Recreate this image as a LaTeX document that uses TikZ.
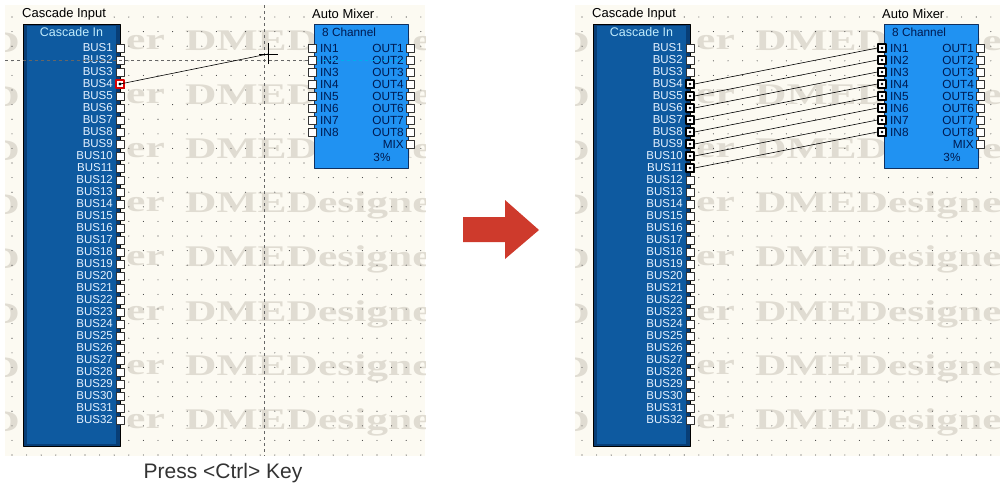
\documentclass[tikz,border=0pt]{standalone}
\usepackage{fontspec}
\setmainfont{Liberation Sans}
\newfontfamily\wmfont{Liberation Serif}
\usetikzlibrary{positioning}

\definecolor{panelbg}{RGB}{252,250,242}
\definecolor{wmgray}{RGB}{224,220,210}
\definecolor{casblue}{RGB}{14,90,160}
\definecolor{casdark}{RGB}{8,62,118}
\definecolor{mixblue}{RGB}{32,146,242}
\definecolor{mixline}{RGB}{16,48,96}
\definecolor{lblnavy}{RGB}{0,26,80}
\definecolor{buswhite}{RGB}{230,242,255}
\definecolor{arrowred}{RGB}{206,58,44}

\tikzset{
  port/.style={draw=black!80, fill=white, minimum size=8pt, inner sep=0pt, line width=0.7pt},
  linked/.style={port, draw=black, line width=1.2pt,
    path picture={\fill[black] (path picture bounding box.center) circle (1.4pt);}},
  buslbl/.style={anchor=east, inner sep=0pt, text=buswhite, font=\fontsize{11.5}{12}\selectfont},
  mixlbl/.style={inner sep=0pt, text=lblnavy, font=\fontsize{11.8}{12}\selectfont},
  title/.style={anchor=west, inner sep=0pt, font=\fontsize{13}{14}\selectfont},
  wmark/.style={anchor=west, inner sep=0pt, text=wmgray, font=\wmfont\bfseries\fontsize{30}{30}\selectfont},
  guide/.style={dash pattern=on 3pt off 3pt, line width=0.6pt}
}

% one DME Designer sheet: #1 name prefix, #2 shift, #3 sheet width
\newcommand{\dmesheet}[3]{%
  \begin{scope}[xshift=#2]
    \fill[panelbg] (5,5) rectangle (5+#3,456);
    \begin{scope}
      \clip (5,5) rectangle (5+#3,456);
      \foreach \wy in {43,97,151,205,259,314,368,422} {
        \node[wmark, anchor=east] (#1wa\wy) at (20,\wy) {\scalebox{1.45}[1]{D}};
        \node[wmark] (#1wb\wy) at (126,\wy) {\scalebox{1.45}[1]{er}};
        \node[wmark] (#1wc\wy) at (185,\wy) {\scalebox{1.45}[1]{DMEDesigner}};
      }
      \foreach \gx in {12,26.6,...,428}
        \foreach \gy in {17,31.6,...,456}
          \fill[black!75] (\gx,\gy) circle (0.55);
    \end{scope}
    % cascade input block
    \node[title] (#1ctitle) at (22,14) {Cascade Input};
    \fill[casdark] (23,24) rectangle (120,446);
    \fill[casblue] (27,26) rectangle (116,444);
    \draw[black, line width=0.6pt] (23,24) rectangle (120,446);
    \node[text=cyan!25, font=\fontsize{12.5}{13}\selectfont] (#1chead) at (71.5,32) {Cascade In};
    \foreach \i in {1,...,32} {
      \node[port] (#1b\i) at (120,48+12*\i-12) {};
      \node[buslbl] (#1bl\i) at (113,48+12*\i-12) {BUS\i};
    }
    % auto mixer block
    \node[title] (#1mtitle) at (312,14) {Auto Mixer};
    \fill[mixblue] (314,24) rectangle (408,168);
    \draw[mixline, line width=0.6pt] (314,24) rectangle (408,168);
    \node[mixlbl, anchor=west] (#1mhead) at (322,32) {8 Channel};
    \foreach \i in {1,...,8} {
      \node[port] (#1i\i) at (312,48+12*\i-12) {};
      \node[port] (#1o\i) at (410,48+12*\i-12) {};
      \node[mixlbl, anchor=west] (#1il\i) at (320,48+12*\i-12) {IN\i};
      \node[mixlbl, anchor=east] (#1ol\i) at (404,48+12*\i-12) {OUT\i};
    }
    \node[port] (#1mix) at (410,144) {};
    \node[mixlbl, anchor=east] (#1mixl) at (404,144) {MIX};
    \node[mixlbl] (#1pct) at (382,157) {3\%};
  \end{scope}}

\begin{document}
\begin{tikzpicture}[x=1pt, y=-1pt, line join=round]
  \useasboundingbox (0,0) rectangle (1000,488);

  % before: dragging from BUS4
  \dmesheet{L}{0pt}{420}
  \draw[black!60, guide] (264,5) -- (264,456);
  \draw[black!60, guide] (5,60) -- (308,60);
  \draw[cyan, guide] (317,60) -- (405,60);
  \coordinate (cur) at (268,54);
  \node[port, draw=red!85!black, line width=1.2pt,
    path picture={\fill[black] (path picture bounding box.center) circle (1.6pt);}] (sel) at (Lb4) {};
  \draw[black, line width=0.6pt] (sel.center) -- (cur);
  \draw[black, line width=0.7pt] ([xshift=-9pt]cur) -- ([xshift=10pt]cur)
    ([yshift=-10pt]cur) -- ([yshift=11pt]cur);
  \node[font=\fontsize{21}{24}\selectfont, text=black!80] (cap) at (223,473) {Press <Ctrl> Key};

  % arrow between the sheets
  \fill[arrowred] (463,217) -- (505,217) -- (505,200) -- (539,230)
    -- (505,259) -- (505,242) -- (463,242) -- cycle;

  % after: BUS4..BUS11 wired to IN1..IN8
  \dmesheet{R}{570pt}{425}
  \foreach \i [evaluate=\i as \b using int(\i+3)] in {1,...,8} {
    \node[linked] (Rlb\b) at (Rb\b) {};
    \node[linked] (Rli\i) at (Ri\i) {};
    \draw[black, line width=0.6pt] (Rlb\b.east) -- (Rli\i.west);
  }
\end{tikzpicture}
\end{document}
